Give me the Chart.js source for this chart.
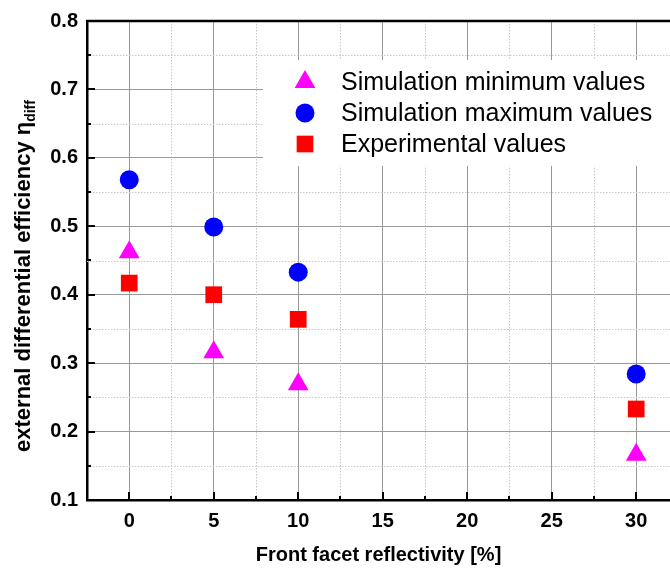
<!DOCTYPE html>
<html lang="en">
<head>
<meta charset="UTF-8">
<title>Differential efficiency vs front facet reflectivity</title>
<script src="https://cdn.jsdelivr.net/npm/chart.js"></script>
<style>
    body { margin: 0; background: #fff; }
    #wrap { width: 670px; height: 571px; position: relative; }
</style>
</head>
<body>
<div id="wrap"><canvas id="c"></canvas></div>
<script>
// reflectivity values [%]
const reflectivity = [0, 5, 10, 30];
const simMin = [0.462, 0.316, 0.269, 0.166];
const simMax = [0.568, 0.499, 0.433, 0.284];
const experimental = [0.417, 0.400, 0.364, 0.233];

const xTicks = [0, 5, 10, 15, 20, 25, 30];
const yTicks = [0.1, 0.2, 0.3, 0.4, 0.5, 0.6, 0.7, 0.8];

const seriesNames = ['Simulation minimum values', 'Simulation maximum values', 'Experimental values'];

const FONT = 'Arial, "Liberation Sans", sans-serif';

function pts(ys) {
    return reflectivity.map((x, i) => ({ x: x, y: ys[i] }));
}

const datasets = [
    { label: seriesNames[0], data: pts(simMin), pointStyle: 'triangle', pointRadius: 12,
      backgroundColor: '#ff00ff', borderColor: '#ff00ff', borderWidth: 0 },
    { label: seriesNames[1], data: pts(simMax), pointStyle: 'circle', pointRadius: 9.5,
      backgroundColor: '#0000ff', borderColor: '#0000ff', borderWidth: 0 },
    { label: seriesNames[2], data: pts(experimental), pointStyle: 'rect', pointRadius: 11.8,
      backgroundColor: '#ff0000', borderColor: '#ff0000', borderWidth: 0 }
];

// minor grid, inward ticks, legend box, top border and y title
const extras = {
    id: 'extras',
    beforeDatasetsDraw(chart) {
        const ctx = chart.ctx, a = chart.chartArea;
        const xs = chart.scales.x, ys = chart.scales.y;
        ctx.save();
        // dotted minor grid
        ctx.strokeStyle = '#c8c8c8';
        ctx.lineWidth = 1;
        ctx.setLineDash([1.5, 1.5]);
        for (let v = 2.5; v < 32; v += 5) {
            const px = Math.round(xs.getPixelForValue(v)) + 0.5;
            ctx.beginPath(); ctx.moveTo(px, a.top); ctx.lineTo(px, a.bottom); ctx.stroke();
        }
        for (let v = 0.15; v < 0.8; v += 0.1) {
            const py = Math.round(ys.getPixelForValue(v)) + 0.5;
            ctx.beginPath(); ctx.moveTo(a.left, py); ctx.lineTo(a.right, py); ctx.stroke();
        }
        ctx.setLineDash([]);

        // legend box
        const bx = 263, by = 60, bw = a.right - 263, bh = 106;
        ctx.fillStyle = '#fff';
        ctx.fillRect(bx, by, bw, bh);
        const rowY = [82, 113, 144];
        ctx.font = '25px ' + FONT;
        ctx.textBaseline = 'middle';
        ctx.textAlign = 'left';
        datasets.forEach((d, i) => {
            ctx.fillStyle = d.backgroundColor;
            ctx.strokeStyle = d.borderColor;
            Chart.helpers.drawPoint(ctx, { pointStyle: d.pointStyle, radius: d.pointRadius, rotation: 0, borderWidth: 0 }, 305, rowY[i]);
            ctx.fillStyle = '#000';
            ctx.fillText(d.label, 341, rowY[i] + 1);
        });

        // inward ticks
        ctx.strokeStyle = '#000';
        ctx.lineWidth = 2;
        for (let v = 0; v <= 30; v += 2.5) {
            const px = Math.round(xs.getPixelForValue(v));
            const len = (v % 5 === 0) ? 8 : 4;
            ctx.beginPath(); ctx.moveTo(px, a.bottom); ctx.lineTo(px, a.bottom - len); ctx.stroke();
        }
        for (let k = 1; k <= 14; k++) {
            const v = 0.1 + k * 0.05;
            const py = Math.round(ys.getPixelForValue(v));
            const len = (k % 2 === 0) ? 8 : 4;
            ctx.beginPath(); ctx.moveTo(a.left, py); ctx.lineTo(a.left + len, py); ctx.stroke();
        }
        ctx.restore();
    },
    afterDraw(chart) {
        const ctx = chart.ctx, a = chart.chartArea;
        ctx.save();
        ctx.strokeStyle = '#000';
        ctx.lineWidth = 2.5;
        ctx.beginPath(); ctx.moveTo(a.left - 1, a.top); ctx.lineTo(a.right, a.top); ctx.stroke();

        // y title with subscript
        const main = 'external differential efficiency \u03b7';
        const sub = 'diff';
        const fMain = 'bold 22px ' + FONT, fSub = 'bold 14px ' + FONT;
        ctx.font = fMain;
        const w1 = ctx.measureText(main).width;
        ctx.font = fSub;
        const w2 = ctx.measureText(sub).width;
        const total = w1 + w2;
        ctx.translate(24, 276);
        ctx.rotate(-Math.PI / 2);
        ctx.fillStyle = '#000';
        ctx.textBaseline = 'middle';
        ctx.textAlign = 'left';
        ctx.font = fMain;
        ctx.fillText(main, -total / 2, 0);
        ctx.font = fSub;
        ctx.fillText(sub, -total / 2 + w1, 7);
        ctx.restore();
    }
};

new Chart(document.getElementById('c'), {
    type: 'scatter',
    data: { datasets: datasets },
    options: {
        responsive: true,
        maintainAspectRatio: false,
        animation: false,
        layout: { autoPadding: false, padding: { top: 20, right: 0, left: 0, bottom: 0 } },
        plugins: { legend: { display: false }, tooltip: { enabled: false } },
        scales: {
            x: {
                type: 'linear',
                min: -2.5,
                max: 32,
                afterBuildTicks: s => { s.ticks = xTicks.map(v => ({ value: v })); },
                afterFit: s => { s.height = 71; },
                grid: { color: '#999999', lineWidth: 1, drawTicks: false },
                border: { color: '#000', width: 2.5 },
                ticks: { padding: 9, color: '#000', font: { family: FONT, size: 20, weight: 'bold' } },
                title: {
                    display: true,
                    text: 'Front facet reflectivity [%]',
                    color: '#000',
                    font: { family: FONT, size: 20, weight: 'bold' },
                    padding: { top: 0, bottom: 4 }
                }
            },
            y: {
                min: 0.1,
                max: 0.8,
                afterBuildTicks: s => { s.ticks = yTicks.map(v => ({ value: v })); },
                afterFit: s => { s.width = 87; },
                grid: { color: '#999999', lineWidth: 1, drawTicks: false },
                border: { color: '#000', width: 2.5 },
                ticks: {
                    padding: 9,
                    color: '#000',
                    font: { family: FONT, size: 20, weight: 'bold' },
                    callback: v => v.toFixed(1)
                }
            }
        }
    },
    plugins: [extras]
});
</script>
</body>
</html>
